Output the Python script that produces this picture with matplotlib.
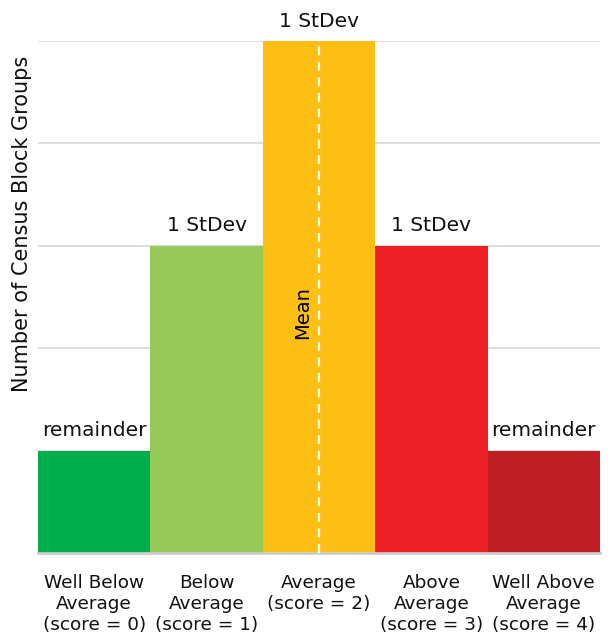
import matplotlib
matplotlib.use("Agg")
import matplotlib.pyplot as plt

# data
categories = ["Well Below\nAverage\n(score = 0)", "Below\nAverage\n(score = 1)",
              "Average\n(score = 2)", "Above\nAverage\n(score = 3)",
              "Well Above\nAverage\n(score = 4)"]
heights = [1, 3, 5, 3, 1]
bar_labels = ["remainder", "1 StDev", "1 StDev", "1 StDev", "remainder"]
colors = ["#00ae4d", "#96c957", "#fdbf14", "#ed2127", "#bf2026"]

plt.rcParams['font.family'] = ['DejaVu Sans']

fig = plt.figure(figsize=(6.14, 6.34), dpi=100)
ax = fig.add_axes([38/614, 81/634, 562/614, 512/634])

x = list(range(len(heights)))
ax.bar(x, heights, width=1.0, color=colors, zorder=2)
for xi, h, lab in zip(x, heights, bar_labels):
    ax.text(xi, h + 0.14, lab, ha="center", va="baseline", fontsize=14.5, color="#111111")

# mean line
ax.axvline(2, ymin=0, ymax=1, color="white", ls=(0, (4, 3)), lw=1.6, zorder=3)
ax.text(1.85, 2.35, "Mean", rotation=90, ha="center", va="center",
        fontsize=14, color="black", zorder=4)

ax.set_xlim(-0.5, 4.5)
ax.set_ylim(0, 5)
ax.set_yticks([1, 2, 3, 4, 5])
ax.set_yticklabels([])
ax.tick_params(axis="y", length=0)
ax.grid(axis="y", color="#d9d9d9", lw=1.2, zorder=0)
ax.set_xticks(x)
ax.set_xticklabels(categories, fontsize=13.3, linespacing=1.22, color="#111111")
ax.tick_params(axis="x", length=0, pad=15)
for s in ["top", "left", "right"]:
    ax.spines[s].set_visible(False)
ax.spines["bottom"].set_color("#cccccc")
ax.spines["bottom"].set_linewidth(2)

fig.text(22/614, 410/634, "Number of Census Block Groups", rotation=90,
         ha="center", va="center", fontsize=15, color="#111111")

fig.savefig("out.png", dpi=100)
